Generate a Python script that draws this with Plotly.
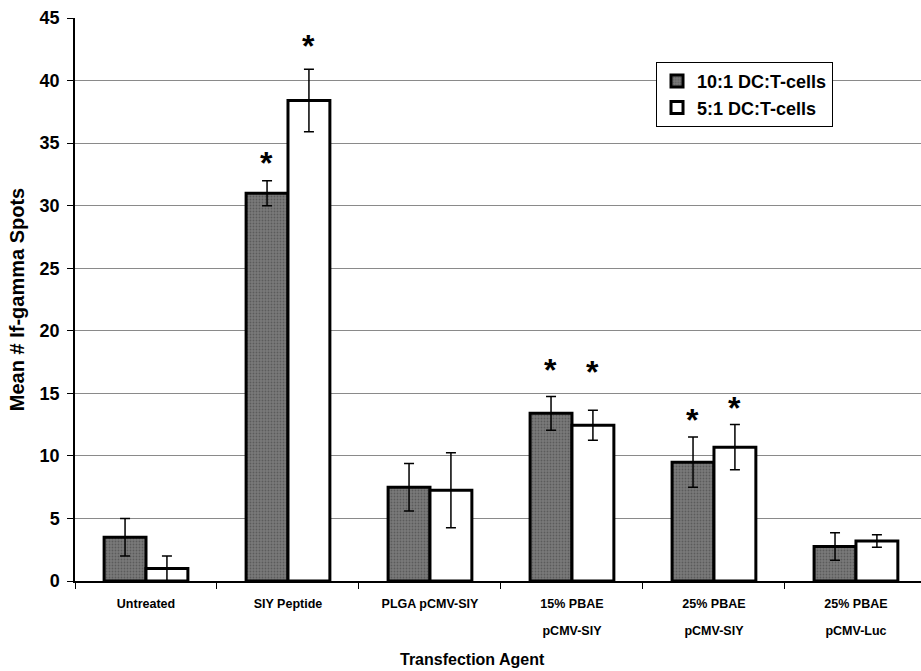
import plotly.graph_objects as go

categories = ["Untreated", "SIY Peptide", "PLGA pCMV-SIY", "15% PBAE<br>pCMV-SIY",
              "25% PBAE<br>pCMV-SIY", "25% PBAE<br>pCMV-Luc"]
series1_name = "10:1 DC:T-cells"
series2_name = "5:1 DC:T-cells"
series1_vals = [3.5, 31.0, 7.5, 13.4, 9.5, 2.75]
series1_err = [1.5, 1.0, 1.9, 1.35, 2.0, 1.1]
series2_vals = [1.0, 38.4, 7.25, 12.45, 10.7, 3.2]
series2_err = [1.0, 2.5, 3.0, 1.2, 1.8, 0.5]
# significance stars: (category index, series index, y position)
stars = [(1, 0, 33.4), (1, 1, 42.8), (3, 0, 16.9), (3, 1, 16.7), (4, 0, 12.9), (4, 1, 13.8)]
y_ticks = [0, 5, 10, 15, 20, 25, 30, 35, 40, 45]
x_title = "Transfection Agent"
y_title = "Mean # If-gamma Spots"

FONT = "Liberation Sans, Arial, sans-serif"

fig = go.Figure()
fig.add_trace(go.Bar(
    x=categories, y=series1_vals, name=f"<b>{series1_name}</b>",
    marker=dict(color="#6e6e6e", line=dict(color="black", width=3),
                pattern=dict(shape=".", fgcolor="#3c3c3c", bgcolor="#7a7a7a", size=3, solidity=0.3)),
    error_y=dict(type="data", array=series1_err, color="black", thickness=1.5, width=5),
))
fig.add_trace(go.Bar(
    x=categories, y=series2_vals, name=f"<b>{series2_name}</b>",
    marker=dict(color="white", line=dict(color="black", width=3)),
    error_y=dict(type="data", array=series2_err, color="black", thickness=1.5, width=5),
))

for ci, si, yv in stars:
    fig.add_annotation(x=categories[ci], y=yv, text="<b>*</b>", showarrow=False,
                       xshift=-21 if si == 0 else 21, yanchor="middle",
                       font=dict(family=FONT, size=32, color="black"))

fig.add_annotation(xref="paper", yref="paper", x=0.47, y=-0.14, yanchor="middle",
                   text=f"<b>{x_title}</b>", showarrow=False,
                   font=dict(family=FONT, size=16, color="black"))

fig.update_layout(
    width=921, height=671,
    margin=dict(l=75, r=0, t=18, b=90),
    paper_bgcolor="white", plot_bgcolor="white",
    barmode="group", bargap=0.41, bargroupgap=0,
    showlegend=True,
    legend=dict(x=0.896, y=0.922, xanchor="right", yanchor="top",
                bgcolor="white", bordercolor="black", borderwidth=1,
                font=dict(family=FONT, size=18, color="black"),
                tracegroupgap=0, itemwidth=30),
    font=dict(family=FONT, color="black"),
)
fig.update_xaxes(
    range=[-0.5, 5.458], showline=True, linecolor="black", linewidth=1.5,
    ticks="outside", tickson="boundaries", ticklen=6, tickcolor="black",
    tickfont=dict(family=FONT, size=21, color="black"),
    tickprefix="<span style='font-size:12.5px'><b>", ticksuffix="</b></span>",
    ticklabelstandoff=0,
)
fig.update_yaxes(
    range=[0, 45], tickvals=y_ticks, ticktext=[f"<b>{v}</b>" for v in y_ticks],
    showline=True, linecolor="black", linewidth=1.5,
    ticks="outside", ticklen=6, tickcolor="black",
    ticklabelstandoff=4,
    showgrid=True, gridcolor="#8a8a8a", gridwidth=1,
    tickfont=dict(size=18, color="black"),
    title=dict(text=f"<b>{y_title}</b>", font=dict(size=20), standoff=10),
    zeroline=False,
)
fig.write_html("out.html")
